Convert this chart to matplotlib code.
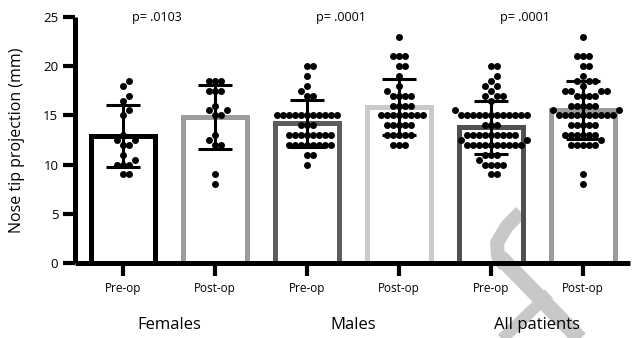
import numpy as np
import matplotlib
matplotlib.use('Agg')
import matplotlib.pyplot as plt
from matplotlib.lines import Line2D

plt.rcParams['font.family'] = ['Open Sans', 'DejaVu Sans']

# values (mm)
groups = ['Females', 'Males', 'All patients']
conds = ['Pre-op', 'Post-op']
p_values = ['p= .0103', 'p= .0001', 'p= .0001']

females_pre = [18.5, 18, 17, 16.5, 15.5, 15, 13, 12.5, 12.5, 12, 12, 11,
               10.5, 10, 10, 10, 9, 9]
females_post = [18.5, 18.5, 18.5, 17.5, 17.5, 17.5, 16, 15.5, 15.5, 15, 15,
                13, 12.5, 12, 12, 9, 8]
males_pre = [20, 20, 19, 18, 17.5, 17, 17,
             15, 15, 15, 15, 15, 15, 15, 15, 15, 15, 15,
             14, 14, 14,
             13, 13, 13, 13, 13, 13, 13, 13,
             12, 12, 12, 12, 12, 12, 12, 12,
             11, 11, 10]
males_post = [23, 21, 21, 21, 20, 20, 19, 18, 17.5, 17, 17, 17, 17,
              16, 16, 16, 16, 15, 15, 15, 15, 15, 15, 15, 15,
              14, 14, 14, 14, 14, 13, 13, 13, 13, 13, 12, 12, 12]
# all patients = females + males
all_pre = females_pre + males_pre
all_post = females_post + males_post

series = [females_pre, females_post, males_pre, males_post, all_pre, all_post]
edge_colors = ['#000000', '#9c9c9c', '#5c5c5c', '#cacaca', '#505050', '#9c9c9c']

fig = plt.figure(figsize=(6.34, 3.38), dpi=100)
ax = fig.add_axes([75/634, (338-263)/338, (630-75)/634, (263-17)/338])

pos = np.arange(len(series))
xlim = (-0.52, 5.51)
px_x = (630 - 75) / (xlim[1] - xlim[0])
px_y = 246 / 25


def swarm(vals, dx=5.8, dy=8.0):
    # prism-like rows: points closer than dy vertically are pushed sideways
    vals = np.asarray(vals, dtype=float)
    order = np.argsort(vals, kind='stable')
    grid = np.arange(0, 60, 0.25)
    cands = sorted(np.concatenate([grid, -grid[1:]]), key=abs)
    placed = []
    offs = np.zeros(len(vals))
    for i in order:
        y = vals[i] * px_y
        for c in cands:
            if all(abs(c - a) >= dx or abs(y - b) >= dy for a, b in placed):
                break
        placed.append((c, y))
        offs[i] = c / px_x
    return offs


means = [np.mean(s) for s in series]
sds = [np.std(s, ddof=1) for s in series]

ax.bar(pos, means, width=0.7, color='white', edgecolor='none', zorder=1)
ax.bar(pos, means, width=0.7, color='none', edgecolor=edge_colors,
       linewidth=3.6, zorder=2)

for p, s in zip(pos, series):
    ax.scatter(p + swarm(s), s, s=25, color='black', linewidths=0, zorder=3)

ax.errorbar(pos, means, yerr=sds, fmt='none', ecolor='black', elinewidth=2.2,
            capsize=12, capthick=2.2, zorder=4)

# grey watermark behind the axis lines
for xs, ys, lw in [([521, 507, 497, 498, 505], [212, 226, 243, 256, 266], 10),
                   ([500, 582], [257, 341], 11.5),
                   ([500, 549], [341, 294], 8.5)]:
    ax.add_line(Line2D(np.array(xs) / 634, 1 - np.array(ys) / 338,
                       color='#c8c8c8', lw=lw, zorder=1.4, clip_on=False,
                       solid_capstyle='butt', solid_joinstyle='round',
                       transform=fig.transFigure))

ax.set_xlim(*xlim)
ax.set_ylim(0, 25)
ax.set_yticks([0, 5, 10, 15, 20, 25])
ax.set_xticks(pos)
ax.set_xticklabels(conds * 3, fontsize=8.5)
for lab in ax.get_yticklabels():
    lab.set_fontsize(9.5)
ax.tick_params(width=3, length=9, color='black')
ax.tick_params(axis='y', pad=3)
ax.tick_params(axis='x', pad=5)
for side in ['top', 'right']:
    ax.spines[side].set_visible(False)
for side in ['left', 'bottom']:
    ax.spines[side].set_linewidth(3.6)
    ax.spines[side].set_capstyle('butt')

ax.set_ylabel('Nose tip projection (mm)', fontsize=11.5)
ax.yaxis.set_label_coords(-0.09, 0.5)

for k, g in enumerate(groups):
    c = pos[2 * k] + 0.5
    ax.text(c, -0.252, g, transform=ax.get_xaxis_transform(), ha='center',
            va='center', fontsize=12, zorder=5)
    ax.text(c - 0.13, 25, p_values[k], ha='center', va='center',
            fontsize=9, clip_on=False)

fig.savefig('out.png', dpi=100)
